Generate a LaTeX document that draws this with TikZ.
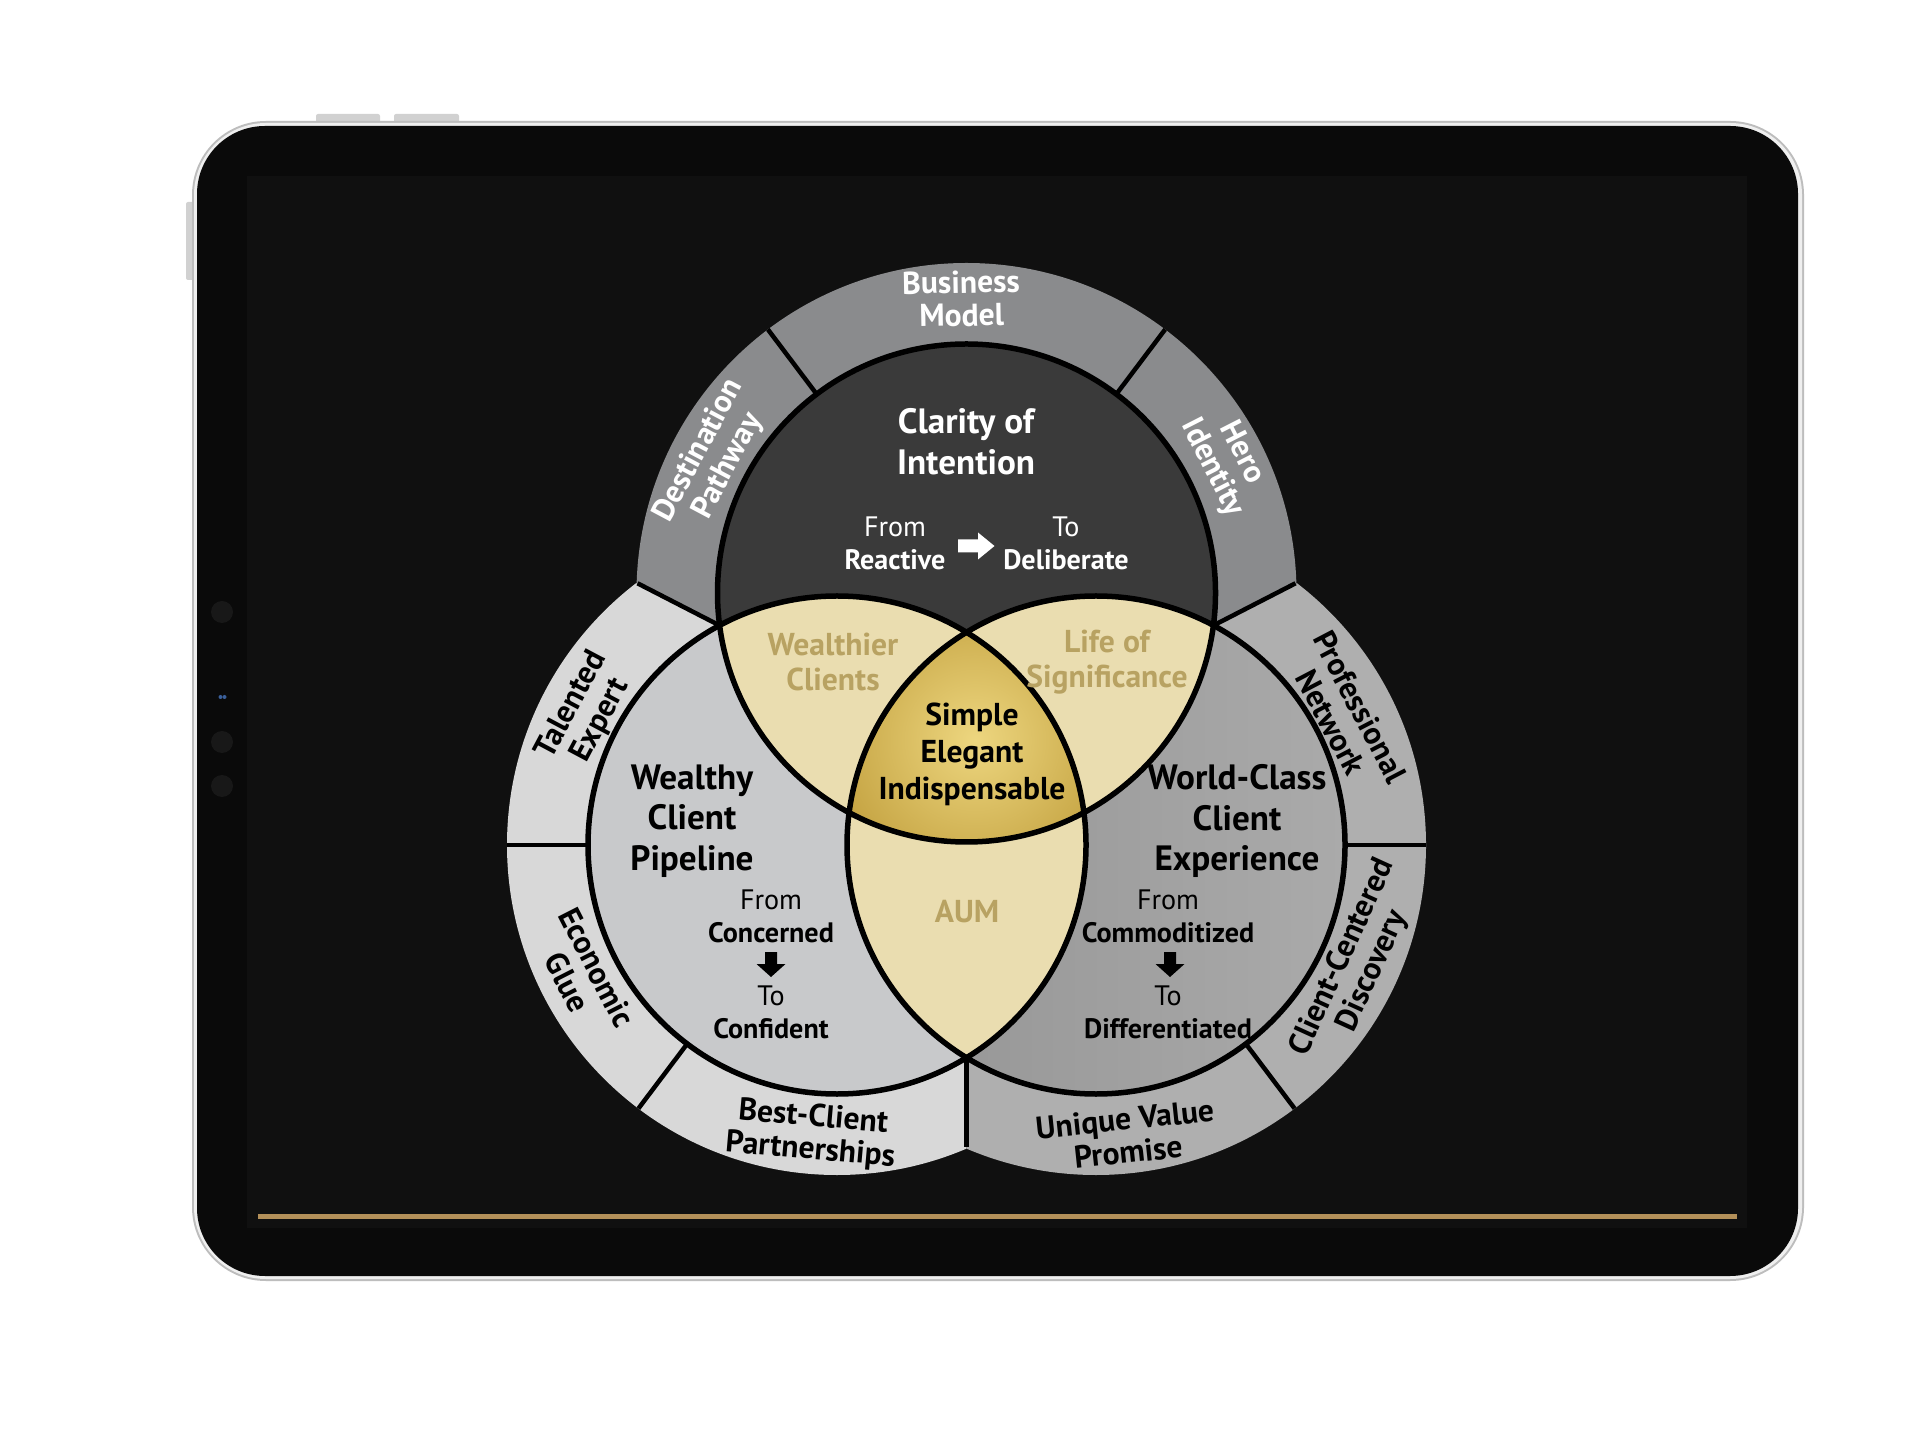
\documentclass[tikz,border=0pt]{standalone}
\usepackage{fontspec}
\setmainfont{PT Sans}
\usepackage{xcolor}

\definecolor{bezeledge}{HTML}{BDBDBD}
\definecolor{bezellight}{HTML}{EFEFEF}
\definecolor{tabbody}{HTML}{0A0A0A}
\definecolor{screen}{HTML}{101010}
\definecolor{camdot}{HTML}{181818}
\definecolor{camblue}{HTML}{3A5F9A}
\definecolor{goldline}{HTML}{B39059}
\definecolor{topring}{HTML}{8A8B8D}
\definecolor{topdisc}{HTML}{3A3A3A}
\definecolor{leftring}{HTML}{D8D8D8}
\definecolor{leftdisc}{HTML}{C8C9CB}
\definecolor{rightring}{HTML}{AFAFAF}
\definecolor{rightdiscA}{HTML}{939393}
\definecolor{rightdiscB}{HTML}{AAAAAA}
\definecolor{lens}{HTML}{EADDB0}
\definecolor{lenstext}{HTML}{B8A262}
\definecolor{goldA}{HTML}{EDD67F}
\definecolor{goldB}{HTML}{BE9B38}

\tikzset{
  headtext/.style={font=\fontsize{10}{11.5}\selectfont\bfseries, align=center, inner sep=0pt},
  smalltext/.style={font=\fontsize{8}{9.4}\selectfont, align=center, inner sep=0pt},
  ringtext/.style={font=\fontsize{9}{9.4}\selectfont\bfseries, align=center, inner sep=0pt},
  lenslabel/.style={font=\fontsize{9}{10.1}\selectfont\bfseries, align=center, inner sep=0pt, text=lenstext},
  divider/.style={black, line width=0.045cm},
  rim/.style={black, line width=0.055cm},
}

\begin{document}
\begin{tikzpicture}
\useasboundingbox (0,0) rectangle (19.2,14.4);
\fill[white] (0,0) rectangle (19.2,14.4);

% tablet frame
\fill[bezeledge!70, rounded corners=0.02cm] (3.16,13.08) rectangle (3.80,13.26);
\fill[bezeledge!70, rounded corners=0.02cm] (3.94,13.08) rectangle (4.59,13.26);
\fill[bezeledge!70, rounded corners=0.02cm] (1.86,11.60) rectangle (1.97,12.38);
\fill[bezeledge, rounded corners=0.74cm] (1.92,1.59) rectangle (18.04,13.19);
\fill[bezellight, rounded corners=0.72cm] (1.94,1.61) rectangle (18.02,13.17);
\fill[tabbody, rounded corners=0.68cm] (1.97,1.64) rectangle (17.98,13.14);
\fill[screen] (2.47,2.12) rectangle (17.47,12.64);
\draw[goldline, line width=0.05cm] (2.58,2.24) -- (17.37,2.24);
\foreach \y in {8.28,6.98,6.54}
  \fill[camdot] (2.22,\y) circle (0.11);
\fill[camblue] (2.205,7.43) circle (0.02);
\fill[camblue] (2.245,7.43) circle (0.02);

% centres of the three circles
\coordinate (T) at (9.665,8.47);
\coordinate (L) at (8.37,5.95);
\coordinate (R) at (10.96,5.95);
\coordinate (O) at (9.665,6.877);

% outer rings
\begin{scope}
  \clip (O) -- ++(-25.2,12.9) -- ++(50.4,0) -- cycle;
  \fill[topring] (T) circle (3.30);
\end{scope}
\begin{scope}
  \clip (O) -- ++(-25.2,12.9) -- ++(0,-40) -- (9.665,-27) -- cycle;
  \fill[leftring] (L) circle (3.30);
\end{scope}
\begin{scope}
  \clip (O) -- ++(25.2,12.9) -- ++(0,-40) -- (9.665,-27) -- cycle;
  \fill[rightring] (R) circle (3.30);
\end{scope}

% ring dividers
\foreach \a in {53,127}
  \draw[divider] (T) ++(\a:2.3) -- ++(\a:1.0);
\foreach \a in {180,233}
  \draw[divider] (L) ++(\a:2.3) -- ++(\a:1.0);
\foreach \a in {0,307}
  \draw[divider] (R) ++(\a:2.3) -- ++(\a:1.0);
\draw[divider] (O) -- ++(-3.29,1.69);
\draw[divider] (O) -- ++(3.29,1.69);
\draw[divider] (O) -- ++(0,-3.95);

% inner discs
\fill[topdisc] (T) circle (2.49);
\fill[leftdisc] (L) circle (2.49);
\shade[left color=rightdiscA, right color=rightdiscB] (R) circle (2.49);
\begin{scope}
  \clip (T) circle (2.49);
  \fill[lens] (L) circle (2.49);
  \fill[lens] (R) circle (2.49);
\end{scope}
\begin{scope}
  \clip (L) circle (2.49);
  \fill[lens] (R) circle (2.49);
\end{scope}
\begin{scope}
  \clip (T) circle (2.49);
  \clip (L) circle (2.49);
  \clip (R) circle (2.49);
  \shade[inner color=goldA, outer color=goldB] (9.75,7.0) circle (1.7);
\end{scope}
\foreach \c in {T,L,R}
  \draw[rim] (\c) circle (2.49);

% ring labels
\node[ringtext, text=white, rotate=1] (bizmodel) at ([shift={(91:2.945)}]T) {Business\\Model};
\node[ringtext, text=white, rotate=62] (destpath) at ([shift={(152:2.865)}]T) {Destination\\Pathway};
\node[ringtext, text=white, rotate=-63] (heroid) at ([shift={(27:2.92)}]T) {Hero\\Identity};
\node[ringtext, rotate=62] (talexp) at ([shift={(152.2:2.835)}]L) {Talented\\Expert};
\node[ringtext, rotate=-63] (econglue) at ([shift={(207:2.86)}]L) {Economic\\Glue};
\node[ringtext, rotate=-5] (bestclient) at ([shift={(265:2.905)}]L) {Best-Client\\Partnerships};
\node[ringtext, rotate=-62.4] (profnet) at ([shift={(27.6:2.815)}]R) {Professional\\Network};
\node[ringtext, rotate=65.5] (ccdisc) at ([shift={(-24.5:2.875)}]R) {Client-Centered\\Discovery};
\node[ringtext, rotate=6] (uvp) at ([shift={(276:2.92)}]R) {Unique Value\\Promise};

% top disc
\node[headtext, text=white] (clarity) at (9.66,9.985) {Clarity of\\Intention};
\node[smalltext, text=white] (fromreact) at (8.95,8.965) {From\\{\bfseries Reactive}};
\node[smalltext, text=white] (todelib) at (10.66,8.965) {To\\{\bfseries Deliberate}};
\coordinate (arrR) at (9.76,8.94);
\fill[white] (arrR) ++(-0.18,-0.065) -- ++(0.2,0) -- ++(0,-0.07) -- ++(0.165,0.135)
  -- ++(-0.165,0.135) -- ++(0,-0.07) -- ++(-0.2,0) -- cycle;

% lenses and centre
\node[lenslabel] (wealthier) at (8.33,7.78) {Wealthier\\Clients};
\node[lenslabel] (lifesig) at (11.07,7.78) {Life of\\Significance};
\node[lenslabel] (aum) at (9.67,5.28) {AUM};
\node[font=\fontsize{9}{10.5}\selectfont\bfseries, align=center, inner sep=0pt] (simple) at (9.72,6.86) {Simple\\Elegant\\Indispensable};

% left disc
\node[headtext] (pipeline) at (6.92,6.19) {Wealthy\\Client\\Pipeline};
\node[smalltext] (fromconc) at (7.71,5.235) {From\\{\bfseries Concerned}};
\node[smalltext] (toconf) at (7.71,4.275) {To\\{\bfseries Confident}};
\coordinate (arrL) at (7.71,4.75);
\fill[black] (arrL) ++(-0.06,0.13) -- ++(0.12,0) -- ++(0,-0.12) -- ++(0.085,0)
  -- ++(-0.145,-0.13) -- ++(-0.145,0.13) -- ++(0.085,0) -- cycle;

% right disc
\node[headtext] (worldclass) at (12.37,6.19) {World-Class\\Client\\Experience};
\node[smalltext] (fromcomm) at (11.68,5.235) {From\\{\bfseries Commoditized}};
\node[smalltext] (todiff) at (11.68,4.275) {To\\{\bfseries Differentiated}};
\coordinate (arrD) at (11.70,4.75);
\fill[black] (arrD) ++(-0.06,0.13) -- ++(0.12,0) -- ++(0,-0.12) -- ++(0.085,0)
  -- ++(-0.145,-0.13) -- ++(-0.145,0.13) -- ++(0.085,0) -- cycle;
\end{tikzpicture}
\end{document}
